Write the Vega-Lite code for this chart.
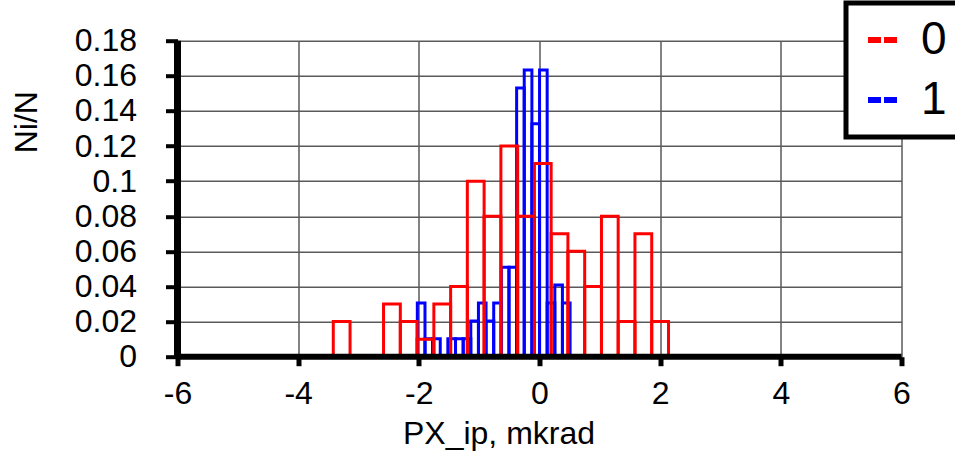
{
  "$schema": "https://vega.github.io/schema/vega-lite/v6.json",
  "width": 724,
  "height": 316,
  "autosize": {"type": "none"},
  "padding": {"left": 177.5, "top": 40.7, "right": 53.5, "bottom": 96.3},
  "background": "white",
  "config": {
    "view": {"stroke": null},
    "font": "Liberation Sans",
    "axis": {
      "domain": false,
      "grid": true,
      "gridColor": "#5a5a5a",
      "gridWidth": 1.5,
      "tickColor": "black",
      "labelColor": "black",
      "labelFont": "Liberation Sans",
      "labelFontSize": 32,
      "labelOverlap": false,
      "labelFlush": false,
      "titleFont": "Liberation Sans",
      "titleFontSize": 32,
      "titleFontWeight": "normal",
      "titleColor": "black"
    },
    "legend": {
      "strokeColor": "black",
      "strokeWidth": 5,
      "fillColor": "white",
      "cornerRadius": 0,
      "padding": 14,
      "symbolType": "stroke",
      "symbolSize": 900,
      "symbolStrokeWidth": 6,
      "symbolDash": [13, 3],
      "labelFont": "Liberation Sans",
      "labelFontSize": 46,
      "labelColor": "black",
      "labelOffset": 15,
      "rowPadding": 14
    }
  },
  "data": {
    "values": [
      {"s": "1", "a": -2.025, "b": -1.898, "v": 0.0306},
      {"s": "1", "a": -1.898, "b": -1.772, "v": 0.0102},
      {"s": "1", "a": -1.772, "b": -1.645, "v": 0.0102},
      {"s": "1", "a": -1.645, "b": -1.519, "v": 0},
      {"s": "1", "a": -1.519, "b": -1.392, "v": 0.0102},
      {"s": "1", "a": -1.392, "b": -1.265, "v": 0.0102},
      {"s": "1", "a": -1.265, "b": -1.139, "v": 0.0102},
      {"s": "1", "a": -1.139, "b": -1.012, "v": 0.0204},
      {"s": "1", "a": -1.012, "b": -0.886, "v": 0.0306},
      {"s": "1", "a": -0.886, "b": -0.759, "v": 0.0204},
      {"s": "1", "a": -0.759, "b": -0.632, "v": 0.0306},
      {"s": "1", "a": -0.632, "b": -0.506, "v": 0.051},
      {"s": "1", "a": -0.506, "b": -0.379, "v": 0.051},
      {"s": "1", "a": -0.379, "b": -0.253, "v": 0.1531},
      {"s": "1", "a": -0.253, "b": -0.126, "v": 0.1633},
      {"s": "1", "a": -0.126, "b": 0.001, "v": 0.1327},
      {"s": "1", "a": 0.001, "b": 0.127, "v": 0.1633},
      {"s": "1", "a": 0.127, "b": 0.254, "v": 0.0306},
      {"s": "1", "a": 0.254, "b": 0.38, "v": 0.0408},
      {"s": "1", "a": 0.38, "b": 0.507, "v": 0.0306},
      {"s": "0", "a": -3.418, "b": -3.14, "v": 0.02},
      {"s": "0", "a": -3.14, "b": -2.862, "v": 0},
      {"s": "0", "a": -2.862, "b": -2.585, "v": 0},
      {"s": "0", "a": -2.585, "b": -2.307, "v": 0.03},
      {"s": "0", "a": -2.307, "b": -2.029, "v": 0.02},
      {"s": "0", "a": -2.029, "b": -1.751, "v": 0.01},
      {"s": "0", "a": -1.751, "b": -1.473, "v": 0.03},
      {"s": "0", "a": -1.473, "b": -1.196, "v": 0.04},
      {"s": "0", "a": -1.196, "b": -0.918, "v": 0.1},
      {"s": "0", "a": -0.918, "b": -0.64, "v": 0.08},
      {"s": "0", "a": -0.64, "b": -0.362, "v": 0.12},
      {"s": "0", "a": -0.362, "b": -0.084, "v": 0.08},
      {"s": "0", "a": -0.084, "b": 0.193, "v": 0.11},
      {"s": "0", "a": 0.193, "b": 0.471, "v": 0.07},
      {"s": "0", "a": 0.471, "b": 0.749, "v": 0.06},
      {"s": "0", "a": 0.749, "b": 1.027, "v": 0.04},
      {"s": "0", "a": 1.027, "b": 1.304, "v": 0.08},
      {"s": "0", "a": 1.304, "b": 1.582, "v": 0.02},
      {"s": "0", "a": 1.582, "b": 1.86, "v": 0.07},
      {"s": "0", "a": 1.86, "b": 2.138, "v": 0.02}
    ]
  },
  "layer": [
    {
      "mark": {"type": "rect", "filled": false, "strokeWidth": 3},
      "encoding": {
        "x": {
          "field": "a",
          "type": "quantitative",
          "scale": {"domain": [-6, 6], "nice": false, "zero": false},
          "axis": {
            "values": [-6, -4, -2, 0, 2, 4, 6],
            "labelExpr": "toString(datum.value)",
            "title": "PX_ip, mkrad",
            "tickSize": 9,
            "tickWidth": 5,
            "labelPadding": 13,
            "titleX": 321,
            "titleY": 77,
            "titleAlign": "center",
            "titleBaseline": "middle"
          }
        },
        "x2": {"field": "b"},
        "y": {
          "field": "v",
          "type": "quantitative",
          "scale": {"domain": [0, 0.18], "nice": false},
          "axis": {
            "values": [0, 0.02, 0.04, 0.06, 0.08, 0.1, 0.12, 0.14, 0.16, 0.18],
            "format": ".2~f",
            "title": "Ni/N",
            "tickSize": 12,
            "tickWidth": 4,
            "labelPadding": 29,
            "titleAngle": -90,
            "titleX": -151,
            "titleY": 81,
            "titleAlign": "center",
            "titleBaseline": "middle"
          }
        },
        "y2": {"datum": 0},
        "color": {
          "field": "s",
          "type": "nominal",
          "scale": {"domain": ["0", "1"], "range": ["#ff0000", "#0000ff"]},
          "legend": {"title": null, "orient": "none", "legendX": 668.5, "legendY": -37.7}
        }
      }
    },
    {
      "data": {"values": [{}]},
      "mark": {"type": "rule", "color": "black", "strokeWidth": 6},
      "encoding": {
        "y": {
          "datum": 0,
          "type": "quantitative",
          "axis": {
            "values": [0, 0.02, 0.04, 0.06, 0.08, 0.1, 0.12, 0.14, 0.16, 0.18],
            "format": ".2~f",
            "title": "Ni/N",
            "tickSize": 12,
            "tickWidth": 4,
            "labelPadding": 29,
            "titleAngle": -90,
            "titleX": -151,
            "titleY": 81,
            "titleAlign": "center",
            "titleBaseline": "middle"
          }
        }
      }
    },
    {
      "data": {"values": [{}]},
      "mark": {"type": "rule", "color": "black", "strokeWidth": 7},
      "encoding": {
        "x": {
          "datum": -6,
          "type": "quantitative",
          "axis": {
            "values": [-6, -4, -2, 0, 2, 4, 6],
            "labelExpr": "toString(datum.value)",
            "title": "PX_ip, mkrad",
            "tickSize": 9,
            "tickWidth": 5,
            "labelPadding": 13,
            "titleX": 321,
            "titleY": 77,
            "titleAlign": "center",
            "titleBaseline": "middle"
          }
        }
      }
    }
  ]
}
